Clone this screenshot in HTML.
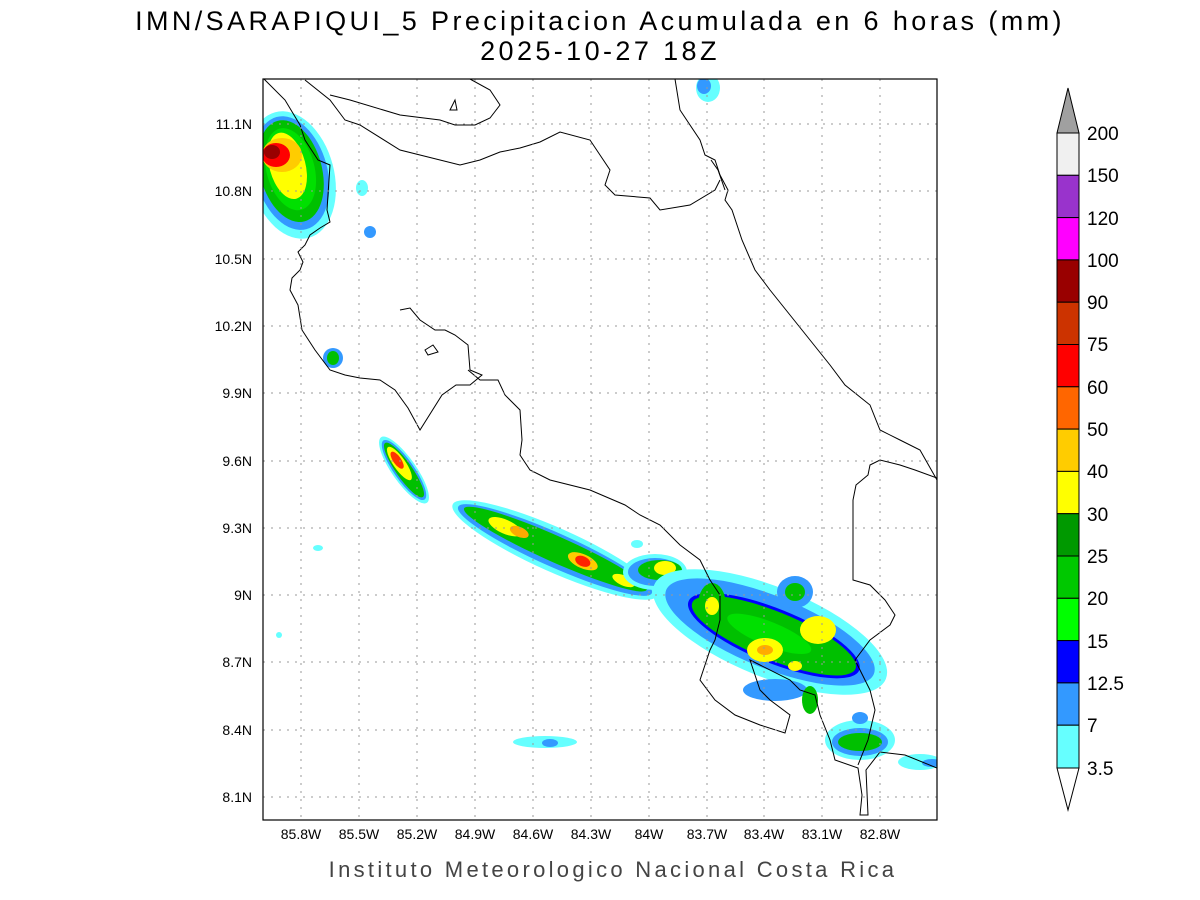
<!DOCTYPE html>
<html><head><style>body{margin:0;background:#fff}svg{display:block}text{font-family:"Liberation Sans",sans-serif}</style></head><body>
<svg width="1200" height="900" viewBox="0 0 1200 900" xmlns="http://www.w3.org/2000/svg">
<rect width="1200" height="900" fill="#fff"/>
<text x="600" y="30" font-size="27" text-anchor="middle" fill="#000" letter-spacing="3.4">IMN/SARAPIQUI_5 Precipitacion Acumulada en 6 horas (mm)</text>
<text x="600" y="60" font-size="27" text-anchor="middle" fill="#000" letter-spacing="3.4">2025-10-27 18Z</text>
<defs><clipPath id="c"><rect x="263" y="79" width="674" height="741"/></clipPath></defs>
<g clip-path="url(#c)">
<g>
<!-- NW blob -->
<g transform="translate(292,175) rotate(-15)">
<ellipse cx="0" cy="0" rx="42" ry="65" fill="#66ffff"/>
<ellipse cx="0" cy="-2" rx="36" ry="58" fill="#3399ff"/>
<ellipse cx="0" cy="-4" rx="31" ry="52" fill="#00c000"/>
<ellipse cx="0" cy="-6" rx="24" ry="42" fill="#00e000"/>
<ellipse cx="-2" cy="-10" rx="18" ry="34" fill="#ffff00"/>
</g>
<ellipse cx="282" cy="155" rx="20" ry="17" fill="#ffcc00"/>
<ellipse cx="276" cy="155" rx="14" ry="12" fill="#ff0000"/>
<ellipse cx="272" cy="152" rx="8" ry="7" fill="#990000"/>
<ellipse cx="370" cy="232" rx="6" ry="6" fill="#3399ff"/>
<ellipse cx="362" cy="188" rx="6" ry="8" fill="#66ffff"/>
<ellipse cx="708" cy="88" rx="12" ry="14" fill="#66ffff"/>
<ellipse cx="704" cy="86" rx="7" ry="8" fill="#3399ff"/>
<ellipse cx="333" cy="358" rx="10" ry="10" fill="#3399ff"/>
<ellipse cx="333" cy="358" rx="6" ry="7" fill="#00c000"/>
<!-- Nicoya streak -->
<g transform="translate(404,470) rotate(55)">
<ellipse cx="0" cy="0" rx="40" ry="12" fill="#66ffff"/>
<ellipse cx="0" cy="0" rx="36" ry="10" fill="#3399ff"/>
<ellipse cx="0" cy="0" rx="33" ry="8" fill="#00c000"/>
<ellipse cx="-8" cy="0" rx="20" ry="6" fill="#ffff00"/>
<ellipse cx="-12" cy="0" rx="10" ry="4" fill="#ff3300"/>
</g>
<!-- main band -->
<g transform="translate(555,550) rotate(24)">
<ellipse cx="0" cy="0" rx="112" ry="22" fill="#66ffff"/>
<ellipse cx="0" cy="0" rx="106" ry="17" fill="#3399ff"/>
<ellipse cx="0" cy="-1" rx="100" ry="13" fill="#00c000"/>
<ellipse cx="-55" cy="-1" rx="18" ry="7" fill="#ffff00"/>
<ellipse cx="-40" cy="-2" rx="10" ry="5" fill="#ffaa00"/>
<ellipse cx="30" cy="-1" rx="16" ry="7" fill="#ffcc00"/>
<ellipse cx="30" cy="-1" rx="8" ry="5" fill="#ff2200"/>
<ellipse cx="75" cy="0" rx="12" ry="5" fill="#ffff00"/>
</g>
<ellipse cx="655" cy="572" rx="32" ry="18" fill="#66ffff"/>
<ellipse cx="655" cy="572" rx="27" ry="14" fill="#3399ff"/>
<ellipse cx="660" cy="570" rx="22" ry="10" fill="#00c000"/>
<ellipse cx="665" cy="568" rx="11" ry="7" fill="#ffff00"/>
<g transform="translate(770,632) rotate(22)">
<ellipse cx="0" cy="0" rx="125" ry="45" fill="#66ffff"/>
<ellipse cx="0" cy="0" rx="112" ry="36" fill="#3399ff"/>
<ellipse cx="5" cy="2" rx="92" ry="27" fill="#0000ff"/>
<ellipse cx="5" cy="2" rx="88" ry="24" fill="#00c000"/>
<ellipse cx="0" cy="2" rx="45" ry="12" fill="#00e000"/>
</g>
<ellipse cx="712" cy="605" rx="14" ry="22" fill="#00c000"/>
<ellipse cx="712" cy="606" rx="7" ry="9" fill="#ffff00"/>
<ellipse cx="765" cy="650" rx="18" ry="12" fill="#ffff00"/>
<ellipse cx="765" cy="650" rx="8" ry="5" fill="#ffaa00"/>
<ellipse cx="818" cy="630" rx="18" ry="14" fill="#ffff00"/>
<ellipse cx="795" cy="592" rx="18" ry="16" fill="#3399ff"/>
<ellipse cx="795" cy="592" rx="10" ry="9" fill="#00c000"/>
<ellipse cx="795" cy="666" rx="7" ry="5" fill="#ffff00"/>
<ellipse cx="775" cy="690" rx="32" ry="11" fill="#3399ff"/>
<ellipse cx="860" cy="740" rx="35" ry="20" fill="#66ffff"/>
<ellipse cx="860" cy="742" rx="28" ry="14" fill="#3399ff"/>
<ellipse cx="860" cy="742" rx="22" ry="9" fill="#00c000"/>
<ellipse cx="860" cy="718" rx="8" ry="6" fill="#3399ff"/>
<ellipse cx="810" cy="700" rx="8" ry="14" fill="#00c000"/>
<ellipse cx="920" cy="762" rx="22" ry="8" fill="#66ffff"/>
<ellipse cx="932" cy="763" rx="10" ry="4" fill="#3399ff"/>
<ellipse cx="545" cy="742" rx="32" ry="6" fill="#66ffff"/>
<ellipse cx="550" cy="743" rx="8" ry="4" fill="#3399ff"/>
<ellipse cx="318" cy="548" rx="5" ry="3" fill="#66ffff"/>
<ellipse cx="637" cy="544" rx="6" ry="4" fill="#66ffff"/>
<ellipse cx="279" cy="635" rx="3" ry="3" fill="#66ffff"/>
</g>
<!-- coastlines -->
<g fill="none" stroke="#000" stroke-width="1">
<path d="M264,79 L285,100 L300,125 L305,140 L318,160 L330,165 L327,210 L330,222 L320,228 L310,235 L305,245 L298,252 L303,262 L300,270 L292,278 L290,290 L298,305 L302,330 L315,350 L330,370 L345,375 L360,378 L380,380 L395,390 L408,408 L420,430 L442,395 L456,385 L470,385 L482,375 L470,370 L468,345 L455,335 L445,330 L435,330 L420,320 L410,308 L400,310"/>
<path d="M425,350 L433,345 L438,352 L428,355 Z"/>
<path d="M468,370 L480,380 L498,380 L505,395 L520,410 L522,440 L520,455 L530,470 L550,480 L590,490 L625,505 L640,515 L660,525 L680,545 L700,560 L710,580 L720,595 L720,620 L715,640 L710,650 L705,665 L700,680 L715,700 L735,715 L760,725 L785,733 L790,715 L770,700 L760,690 L750,660 L760,665 L790,680 L800,690 L815,695 L820,715 L830,740 L835,760 L858,768 L862,795 L860,815 L868,815 L866,770 L880,752 L905,755 L937,768"/>
<path d="M305,80 L330,100 L345,120 L360,125 L400,150 L460,165 L480,160 L500,152 L520,148 L540,142 L560,132 L590,140 L600,155 L610,170 L605,185 L615,195 L650,198 L660,210 L690,205 L715,190 L720,180"/>
<path d="M470,79 L490,90 L500,105 L490,118 L475,125 L455,125 L440,120 L400,115 L350,100 L330,95"/>
<path d="M450,110 L455,100 L457,110 Z"/>
<path d="M675,79 L680,110 L700,140 L705,155 L715,160 L720,175 L728,190 L725,200 L732,210 L742,240 L755,270 L770,290 L790,315 L810,340 L830,365 L845,385 L870,405 L880,430 L900,440 L920,450 L937,480"/>
<path d="M937,478 L915,470 L900,465 L880,460 L870,465 L868,475 L856,485 L853,500 L853,580 L870,585 L885,600 L895,615 L890,625 L870,640 L855,660 L870,690 L875,710 L868,740 L858,765"/>
<path d="M711,160 L718,170 L725,190"/>
</g>
</g>
<!-- grid -->
<g stroke="#999" stroke-width="1" stroke-dasharray="2,6">
<path d="M301,79V820M359,79V820M417,79V820M475,79V820M533,79V820M591,79V820M649,79V820M707,79V820M764,79V820M822,79V820M880,79V820"/>
<path d="M263,124H937M263,191H937M263,259H937M263,326H937M263,393H937M263,461H937M263,528H937M263,595H937M263,662H937M263,730H937M263,797H937"/>
</g>
<rect x="263" y="79" width="674" height="741" fill="none" stroke="#000" stroke-width="1.2"/>
<g font-size="14" text-anchor="end">
<text x="252" y="129">11.1N</text><text x="252" y="196">10.8N</text><text x="252" y="264">10.5N</text><text x="252" y="331">10.2N</text><text x="252" y="398">9.9N</text><text x="252" y="466">9.6N</text><text x="252" y="533">9.3N</text><text x="252" y="600">9N</text><text x="252" y="667">8.7N</text><text x="252" y="735">8.4N</text><text x="252" y="802">8.1N</text>
</g>
<g font-size="14" text-anchor="middle">
<text x="301" y="839">85.8W</text><text x="359" y="839">85.5W</text><text x="417" y="839">85.2W</text><text x="475" y="839">84.9W</text><text x="533" y="839">84.6W</text><text x="591" y="839">84.3W</text><text x="649" y="839">84W</text><text x="707" y="839">83.7W</text><text x="764" y="839">83.4W</text><text x="822" y="839">83.1W</text><text x="880" y="839">82.8W</text>
</g>
<text x="613" y="877" font-size="22" text-anchor="middle" fill="#444" letter-spacing="3.3">Instituto Meteorologico Nacional Costa Rica</text>
<!-- colorbar -->
<g stroke="#000" stroke-width="1">
<polygon points="1057,133 1079,133 1068,88" fill="#a0a0a0"/>
<rect x="1057" y="133" width="22" height="42.3" fill="#f0f0f0"/>
<rect x="1057" y="175.3" width="22" height="42.3" fill="#9933cc"/>
<rect x="1057" y="217.6" width="22" height="42.3" fill="#ff00ff"/>
<rect x="1057" y="259.9" width="22" height="42.3" fill="#990000"/>
<rect x="1057" y="302.2" width="22" height="42.3" fill="#cc3300"/>
<rect x="1057" y="344.5" width="22" height="42.3" fill="#ff0000"/>
<rect x="1057" y="386.8" width="22" height="42.3" fill="#ff6600"/>
<rect x="1057" y="429.1" width="22" height="42.3" fill="#ffcc00"/>
<rect x="1057" y="471.4" width="22" height="42.3" fill="#ffff00"/>
<rect x="1057" y="513.7" width="22" height="42.3" fill="#009900"/>
<rect x="1057" y="556" width="22" height="42.3" fill="#00c800"/>
<rect x="1057" y="598.3" width="22" height="42.3" fill="#00ff00"/>
<rect x="1057" y="640.6" width="22" height="42.3" fill="#0000ff"/>
<rect x="1057" y="682.9" width="22" height="42.3" fill="#3399ff"/>
<rect x="1057" y="725.2" width="22" height="42.8" fill="#66ffff"/>
<polygon points="1057,768 1079,768 1068,810" fill="#fff"/>
</g>
<g font-size="19">
<text x="1087" y="140">200</text><text x="1087" y="182">150</text><text x="1087" y="225">120</text><text x="1087" y="267">100</text><text x="1087" y="309">90</text><text x="1087" y="351">75</text><text x="1087" y="394">60</text><text x="1087" y="436">50</text><text x="1087" y="478">40</text><text x="1087" y="521">30</text><text x="1087" y="563">25</text><text x="1087" y="605">20</text><text x="1087" y="648">15</text><text x="1087" y="690">12.5</text><text x="1087" y="732">7</text><text x="1087" y="775">3.5</text>
</g>
</svg>
</body></html>
